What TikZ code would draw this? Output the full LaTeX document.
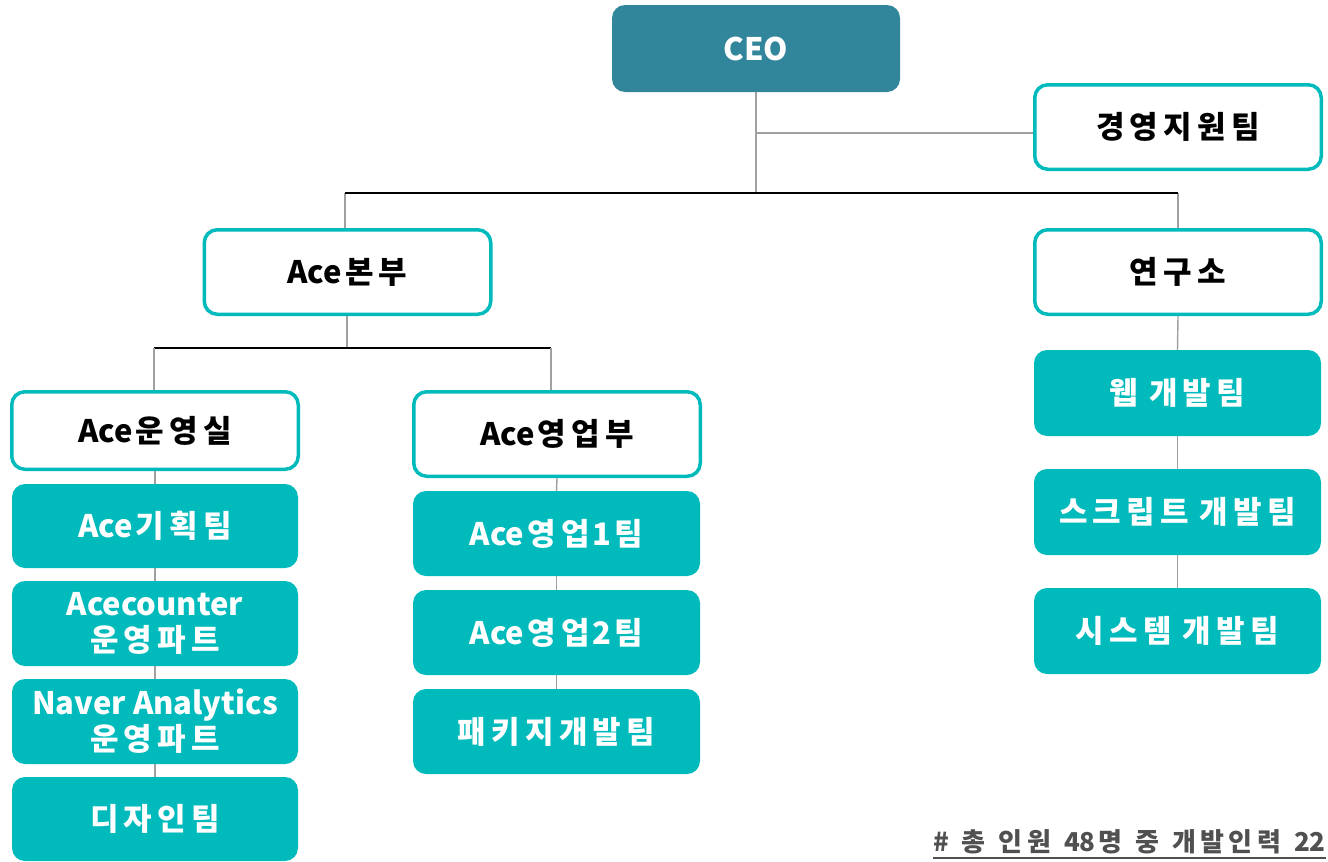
\documentclass[tikz,border=0pt]{standalone}
\usepackage{fontspec}
\setmainfont{Noto Sans CJK KR}
\newXeTeXintercharclass\hangulclass
\newXeTeXintercharclass\latinclass
\newcount\hcnt
\hcnt="AC00
\loop\ifnum\hcnt<"D7A4 \XeTeXcharclass\hcnt=\hangulclass \advance\hcnt by 1 \repeat
\hcnt=`A
\loop\ifnum\hcnt<`[ \XeTeXcharclass\hcnt=\latinclass \advance\hcnt by 1 \repeat
\hcnt=`a
\loop\ifnum\hcnt<`\{ \XeTeXcharclass\hcnt=\latinclass \advance\hcnt by 1 \repeat
\hcnt=`0
\loop\ifnum\hcnt<`: \XeTeXcharclass\hcnt=\latinclass \advance\hcnt by 1 \repeat
\XeTeXinterchartoks\hangulclass\hangulclass={\kern0.17em\relax}
\XeTeXinterchartoks\latinclass\hangulclass={\kern0.1em\relax}
\XeTeXinterchartoks\hangulclass\latinclass={\kern0.1em\relax}
\XeTeXinterchartokenstate=1
\newcommand{\wsp}{\hspace{11pt}}
\definecolor{ceoc}{RGB}{49,134,155}
\definecolor{tealc}{RGB}{0,186,188}
\definecolor{linec}{RGB}{160,160,160}
\definecolor{footc}{RGB}{80,80,80}
\begin{document}
\begin{tikzpicture}[x=1pt,y=-1pt,
  base/.style={rounded corners=13pt, align=center, inner sep=0pt,
    font=\fontsize{31}{38}\selectfont\bfseries},
  ceobox/.style={base, fill=ceoc, text=white, minimum width=288, minimum height=87},
  outbox/.style={base, draw=tealc, line width=3.5pt, fill=white, text=black, minimum width=286.5, minimum height=84.5},
  fillbox/.style={base, fill=tealc, text=white, minimum width=287, minimum height=85},
  conn/.style={draw=linec, line width=1.4pt},
  bar/.style={draw=black, line width=1.2pt}]
\useasboundingbox (0,0) rectangle (1328,862);
% nodes
\node[ceobox] (ceo) at (756,48.5) {CEO};
\node[outbox] (mgmt) at (1178,127) {경영지원팀};
\node[outbox] (hq) at (347.5,272) {Ace본부};
\node[outbox] (lab) at (1178,272) {연구소};
\node[outbox, minimum height=77.5] (ops) at (155,430.5) {Ace운영실};
\node[outbox] (sales) at (557,434) {Ace영업부};
\node[fillbox, minimum width=286, minimum height=84] (plan) at (155,526) {Ace기획팀};
\node[fillbox, minimum width=286] (acec) at (155,623.5) {Acecounter\\[-2pt]운영파트};
\node[fillbox, minimum width=286] (naver) at (155,721.5) {Naver Analytics\\[-2pt]운영파트};
\node[fillbox, minimum width=286, minimum height=84] (design) at (155,819) {디자인팀};
\node[fillbox] (s1) at (556.5,533.5) {Ace영업1팀};
\node[fillbox] (s2) at (556.5,632.5) {Ace영업2팀};
\node[fillbox] (pkg) at (556.5,731.5) {패키지개발팀};
\node[fillbox, minimum height=86] (web) at (1177.5,393) {웹\wsp{}개발팀};
\node[fillbox, minimum height=86] (script) at (1177.5,512) {스크립트\wsp{}개발팀};
\node[fillbox, minimum height=86] (sys) at (1177.5,631) {시스템\wsp{}개발팀};
% junction coordinates
\coordinate (j1) at (756,133);
\coordinate (j2) at (756,193);
\coordinate (bl) at (345,193);
\coordinate (br) at (1178,193);
\coordinate (k1) at (347,348);
\coordinate (kl) at (154,348);
\coordinate (kr) at (551,348);
% connectors
\draw[conn] (ceo.south) -- (j2);
\draw[conn] (j1) -- (mgmt.west |- j1);
\draw[conn] (bl) -- (bl |- hq.north);
\draw[conn] (br) -- (br |- lab.north);
\draw[bar] (bl) -- (br);
\draw[conn] (k1 |- hq.south) -- (k1);
\draw[bar] (kl) -- (kr);
\draw[conn] (kl) -- (kl |- ops.north);
\draw[conn] (kr) -- (kr |- sales.north);
\draw[conn] (ops.south) -- (plan.north);
\draw[conn] (plan.south) -- (acec.north);
\draw[conn] (acec.south) -- (naver.north);
\draw[conn] (naver.south) -- (design.north);
\draw[conn] (sales.south) -- (s1.north);
\draw[conn] (s1.south) -- (s2.north);
\draw[conn] (s2.south) -- (pkg.north);
\draw[conn] (lab.south) -- (web.north);
\draw[conn] (web.south) -- (script.north);
\draw[conn] (script.south) -- (sys.north);
% footer
\node[anchor=base east, inner sep=0pt, text=footc, font=\fontsize{26}{30}\selectfont\bfseries] (foot) at (1326,851) {\spaceskip=13pt\# 총 인원 48명 중 개발인력 22};
\draw[footc, line width=2pt] ([yshift=-7pt]foot.base west) -- ([yshift=-7pt]foot.base east);
\end{tikzpicture}
\end{document}
